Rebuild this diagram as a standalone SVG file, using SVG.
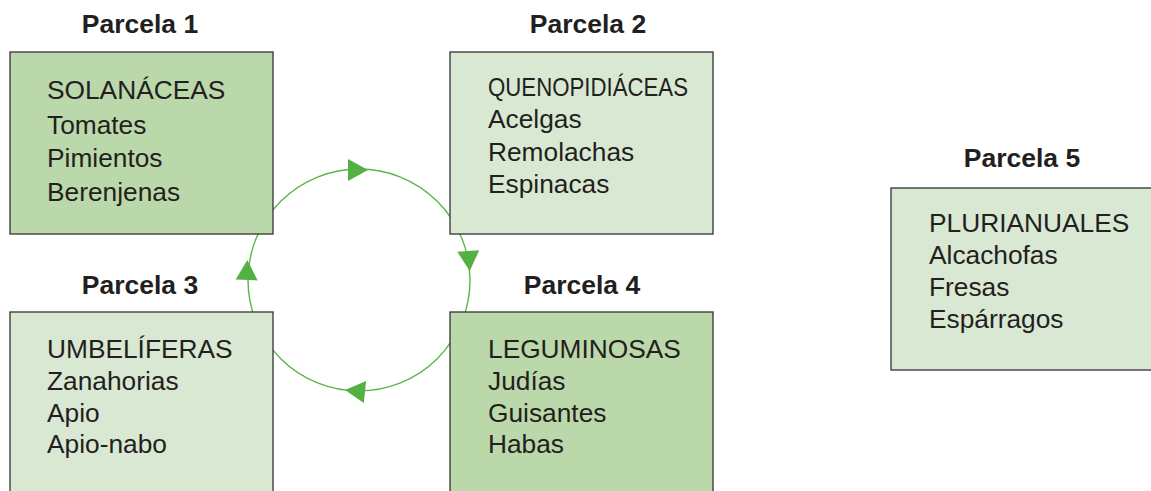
<svg xmlns="http://www.w3.org/2000/svg" width="1151" height="491" viewBox="0 0 1151 491">
<style>
.box{stroke:#333;stroke-width:1.3}
.dark{fill:#bbd8aa}
.light{fill:#d9e8d3}
.title{font-family:"Liberation Sans",Arial,sans-serif;font-weight:bold;font-size:26.5px;fill:#231f20;text-anchor:middle}
.body{font-family:"Liberation Sans",Arial,sans-serif;font-size:26.3px;fill:#231f20}
.ring{fill:none;stroke:#5cb54a;stroke-width:1.4}
.ah{fill:#55b043}
</style>
<defs>
<path id="ah" d="M-10,-11 L10,0 L-10,11 Z"/>
</defs>
<rect width="1151" height="491" fill="#fff"/>
<g id="connectors">
<circle class="ring" cx="359" cy="280" r="111"/>
<use href="#ah" class="ah" transform="translate(358,170)"/>
<use href="#ah" class="ah" transform="translate(469,261) rotate(86)"/>
<use href="#ah" class="ah" transform="translate(355,391) rotate(186)"/>
<use href="#ah" class="ah" transform="translate(247,270) rotate(272)"/>
</g>
<g id="parcela1">
<text class="title" x="140" y="33">Parcela 1</text>
<rect class="box dark" x="10" y="52" width="263" height="182"/>
<text class="body" x="47" y="99">SOLANÁCEAS</text>
<text class="body" x="47" y="134">Tomates</text>
<text class="body" x="47" y="167">Pimientos</text>
<text class="body" x="47" y="201">Berenjenas</text>
</g>
<g id="parcela2">
<text class="title" x="588" y="33">Parcela 2</text>
<rect class="box light" x="450" y="52" width="263" height="182"/>
<text class="body" x="488" y="96" textLength="200" lengthAdjust="spacingAndGlyphs">QUENOPIDIÁCEAS</text>
<text class="body" x="488" y="128">Acelgas</text>
<text class="body" x="488" y="161">Remolachas</text>
<text class="body" x="488" y="193">Espinacas</text>
</g>
<g id="parcela3">
<text class="title" x="140" y="294">Parcela 3</text>
<rect class="box light" x="10" y="312" width="263" height="190"/>
<text class="body" x="47" y="358">UMBELÍFERAS</text>
<text class="body" x="47" y="390">Zanahorias</text>
<text class="body" x="47" y="422">Apio</text>
<text class="body" x="47" y="453">Apio-nabo</text>
</g>
<g id="parcela4">
<text class="title" x="582" y="294">Parcela 4</text>
<rect class="box dark" x="450" y="312" width="263" height="190"/>
<text class="body" x="488" y="358">LEGUMINOSAS</text>
<text class="body" x="488" y="390">Judías</text>
<text class="body" x="488" y="422">Guisantes</text>
<text class="body" x="488" y="453">Habas</text>
</g>
<g id="parcela5">
<text class="title" x="1022" y="167">Parcela 5</text>
<rect class="box light" x="891" y="188" width="270" height="182"/>
<text class="body" x="929" y="232">PLURIANUALES</text>
<text class="body" x="929" y="264">Alcachofas</text>
<text class="body" x="929" y="296">Fresas</text>
<text class="body" x="929" y="328">Espárragos</text>
</g>
</svg>
